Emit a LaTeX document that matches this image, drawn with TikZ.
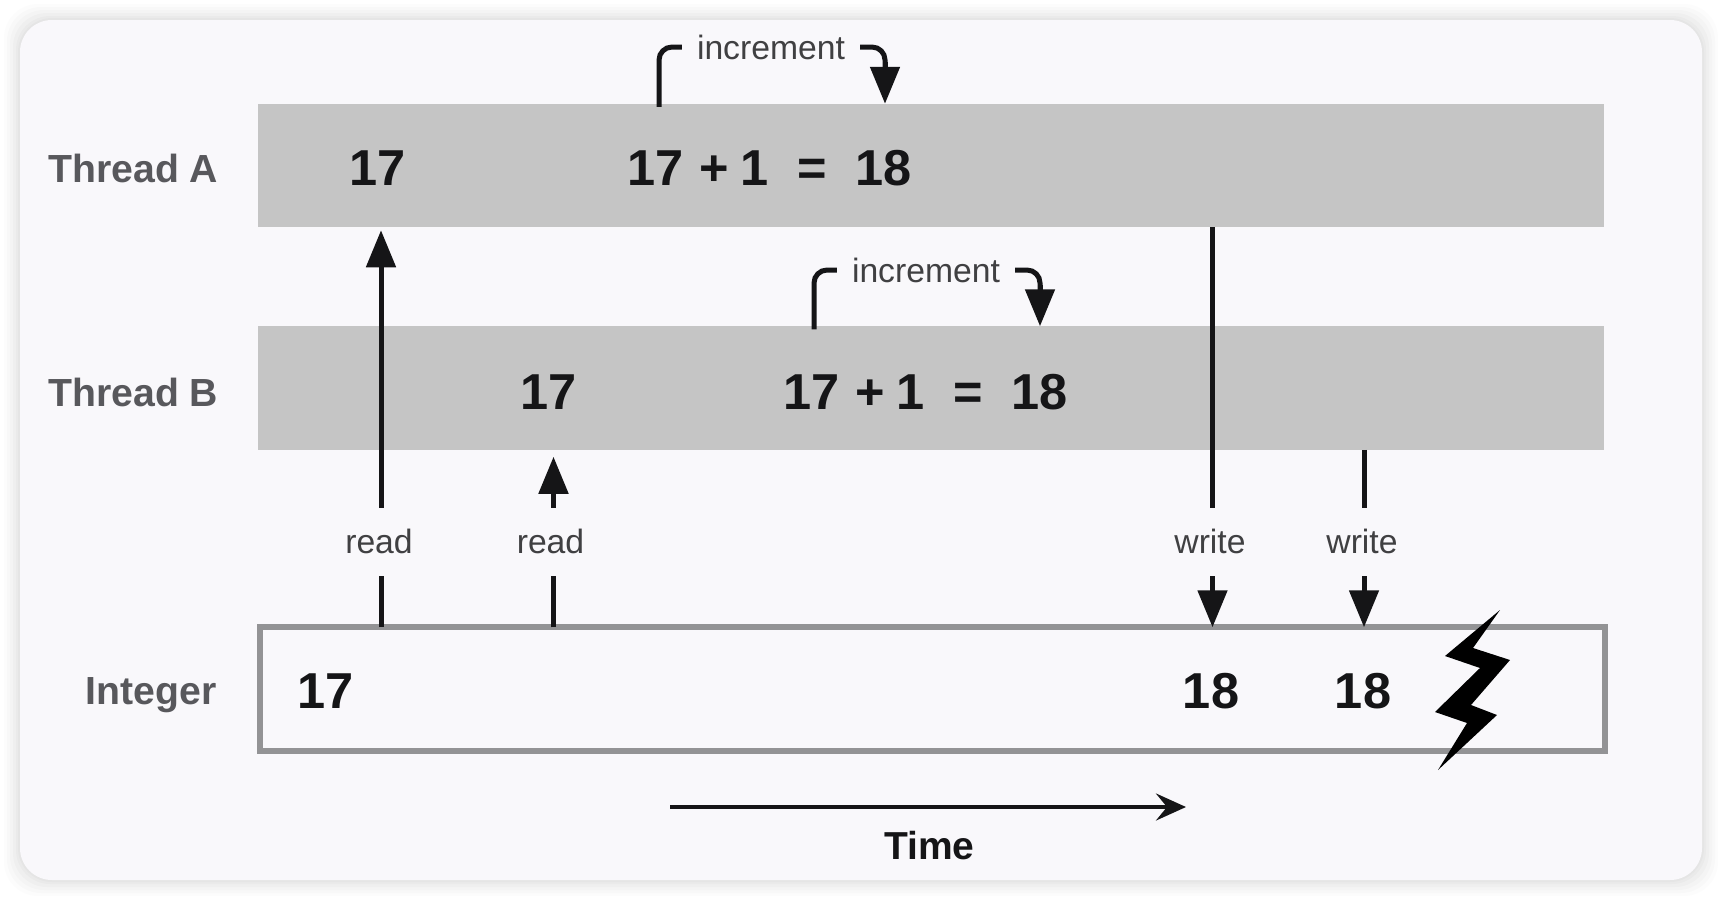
\documentclass[tikz,border=0pt]{standalone}
\usepackage{fontspec}
\setmainfont{Liberation Sans}
\usetikzlibrary{arrows.meta}
\definecolor{cardbg}{HTML}{F9F8FB}
\definecolor{barfill}{HTML}{C5C5C5}
\definecolor{ink}{HTML}{151517}
\definecolor{labelink}{HTML}{58585C}
\definecolor{smallink}{HTML}{404042}
\definecolor{boxline}{HTML}{939395}
\newcommand{\fsz}[1]{\fontsize{#1}{#1}\selectfont}
\newcommand{\sumtext}{17\hspace{16.3pt}+\hspace{12pt}1\hspace{28pt}=\hspace{29.2pt}18}
\tikzset{
  x=1pt,y=-1pt,
  barbox/.style={fill=barfill,draw=none,inner sep=0pt,outer sep=0pt,minimum width=1346.5pt,minimum height=123.5pt},
  intbox/.style={draw=boxline,line width=6pt,fill=cardbg,inner sep=0pt,outer sep=0pt,minimum width=1345.5pt,minimum height=123.5pt},
  rowlabel/.style={font=\fsz{39.2}\bfseries,text=labelink,anchor=east,inner sep=0pt},
  num/.style={font=\fsz{50.5}\bfseries,text=ink,inner sep=0pt},
  small/.style={font=\fsz{33.7},text=smallink,inner sep=0pt},
  gaplabel/.style={small,minimum height=68pt,text depth=2pt},
  inclabel/.style={small,inner xsep=15pt},
  conn/.style={draw=ink,line width=5pt},
  headed/.style={conn,-{Triangle[length=37pt,width=29pt]}},
  timearrow/.style={draw=ink,line width=4pt,-{Stealth[length=30pt,width=27pt,inset=11pt]}},
}
\begin{document}
\begin{tikzpicture}
\useasboundingbox (0,0) rectangle (1722,900);
\fill[white] (0,0) rectangle (1722,900);
\foreach \g/\o in {16/0.012,13/0.014,10/0.016,7/0.018,4/0.02,2/0.02}
  \fill[black,opacity=\o,rounded corners=34pt] (20-\g,20-\g) rectangle (1702+\g,880+\g);
\fill[cardbg,rounded corners=32pt] (20,20) rectangle (1702,880);

% bars
\node[barbox] (barA) at (931,165.5) {};
\node[barbox] (barB) at (931,388) {};
\node[intbox] (intg) at (932.5,689) {};

% row labels
\node[rowlabel] (lblA) at (218.5,168) {Thread A};
\node[rowlabel] (lblB) at (218.5,392) {Thread B};
\node[rowlabel] (lblI) at (216.5,695) {Integer};

% values
\node[num] (a17) at (377.5,168) {17};
\node[num] (aSum) at (769.5,168) {\sumtext};
\node[num] (b17) at (549,392) {17};
\node[num] (bSum) at (925.5,392) {\sumtext};
\node[num] (i17) at (326,691) {17};
\node[num] (i18a) at (1211,691) {18};
\node[num] (i18b) at (1363,691) {18};

% increment labels and connectors
\node[inclabel] (incA) at (771,47) {increment};
\node[inclabel] (incB) at (926,270) {increment};
\coordinate (aFrom) at (659,104);
\coordinate (aTo) at (885,104);
\coordinate (bFrom) at (814,326);
\coordinate (bTo) at (1040,326);
\draw[conn,rounded corners=13pt] ([yshift=-3pt]barA.north -| aFrom) |- (incA.west);
\draw[conn,rounded corners=13pt] ([yshift=-3pt]barB.north -| bFrom) |- (incB.west);
\draw[conn,rounded corners=13pt] (incA.east) -- (aTo |- incA.east) -- ++(0,22);
\draw[headed] (885,62) -- (barA.north -| aTo);
\draw[conn,rounded corners=13pt] (incB.east) -- (bTo |- incB.east) -- ++(0,22);
\draw[headed] (1040,285) -- (barB.north -| bTo);

% read / write labels
\node[gaplabel] (r1) at (379,542) {read};
\node[gaplabel] (r2) at (550.5,542) {read};
\node[gaplabel] (w1) at (1210,542) {write};
\node[gaplabel] (w2) at (1362,542) {write};
\coordinate (cr1) at (381,542);
\coordinate (cr2) at (553.5,542);
\coordinate (cw1) at (1212.5,542);
\coordinate (cw2) at (1364,542);

% read connectors
\draw[conn] (intg.north -| cr1) -- (cr1 |- r1.south);
\draw[headed,shorten >=3pt] (cr1 |- r1.north) -- (barA.south -| cr1);
\draw[conn] (intg.north -| cr2) -- (cr2 |- r2.south);
\draw[headed,shorten >=7pt] (cr2 |- r2.north) -- (barB.south -| cr2);

% write connectors
\draw[conn] (barA.south -| cw1) -- (cw1 |- w1.north);
\draw[headed] (cw1 |- w1.south) -- (intg.north -| cw1);
\draw[conn] (barB.south -| cw2) -- (cw2 |- w2.north);
\draw[headed] (cw2 |- w2.south) -- (intg.north -| cw2);

% lightning
\fill[black] (1500,610) -- (1445,656) -- (1480,668) -- (1435,712) -- (1467,723)
  -- (1438,770) -- (1497,715) -- (1471,705) -- (1510,660) -- (1473,648) -- cycle;

% time
\node[font=\fsz{39}\bfseries,text=ink,inner sep=0pt] (timeL) at (929.5,846) {Time};
\coordinate (t0) at (670,807);
\coordinate (t1) at (1186,807);
\draw[timearrow] (t0) -- (t1);
\end{tikzpicture}
\end{document}
